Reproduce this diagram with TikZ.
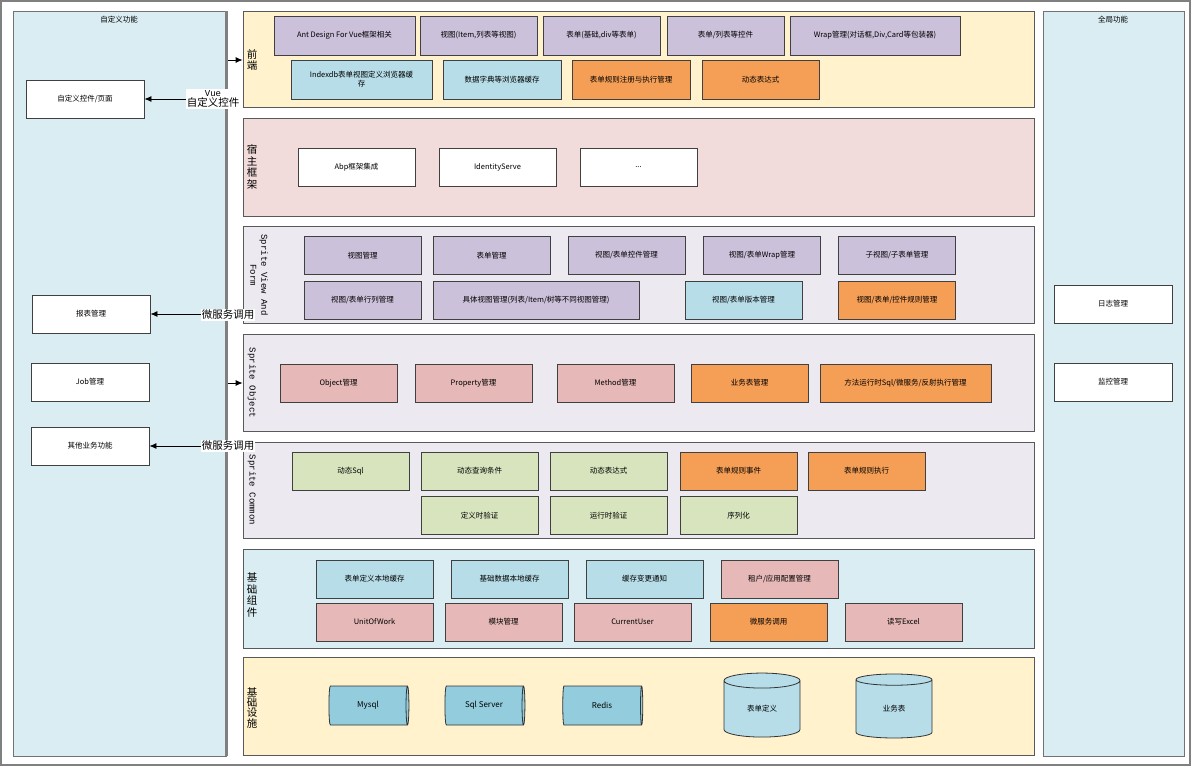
\documentclass[tikz,border=0pt]{standalone}
\usepackage{fontspec}
\setmainfont{Noto Sans CJK SC}
\newfontfamily\monofont{Liberation Mono}
\usetikzlibrary{shapes.geometric,arrows.meta}
\definecolor{panelblue}{HTML}{DAEDF3}
\definecolor{layeryellow}{HTML}{FFF2CC}
\definecolor{layerpink}{HTML}{F2DCDB}
\definecolor{layerlav}{HTML}{EDE9F1}
\definecolor{boxpurple}{HTML}{CCC1DA}
\definecolor{boxblue}{HTML}{B7DDE8}
\definecolor{boxorange}{HTML}{F59E56}
\definecolor{boxpink}{HTML}{E6B9B8}
\definecolor{boxgreen}{HTML}{D7E4BD}
\definecolor{cylblue}{HTML}{93CDDD}
\begin{document}
\begin{tikzpicture}[x=1pt,y=-1pt,
  box/.style={draw=black!75, line width=0.9pt, minimum width=117pt, minimum height=38pt, inner sep=1pt, align=center, font=\fontsize{7.5}{9}\selectfont},
  wbox/.style={box, fill=white},
  pbox/.style={box, fill=boxpurple},
  bbox/.style={box, fill=boxblue},
  obox/.style={box, fill=boxorange},
  rbox/.style={box, fill=boxpink},
  gbox/.style={box, fill=boxgreen},
  layer/.style={draw=black!65, line width=0.8pt, minimum width=791pt, inner sep=0pt},
  panel/.style={draw=black!55, line width=1pt, fill=panelblue, inner sep=0pt},
  lname/.style={align=center, font=\fontsize{10.5}{11.5}\selectfont, inner sep=0pt},
  sname/.style={align=center, rotate=-90, font=\monofont\fontsize{9}{11}\selectfont, inner sep=0pt},
  ptitle/.style={font=\fontsize{7.5}{9}\selectfont},
  hcyl/.style={cylinder, draw=black!80, line width=0.8pt, fill=cylblue, shape aspect=0.35, minimum width=39pt, minimum height=80pt, inner sep=0pt, font=\fontsize{8}{9}\selectfont},
  vcyl/.style={cylinder, shape border rotate=90, draw=black!80, line width=0.8pt, fill=boxblue, shape aspect=0.5, minimum width=76pt, minimum height=64pt, inner sep=0pt, font=\fontsize{7.5}{9}\selectfont},
  arr/.style={-{Latex[length=7pt,width=6pt]}, line width=0.8pt},
  tag/.style={fill=white, inner sep=1pt, align=center, font=\fontsize{10.5}{10.5}\selectfont}]

\useasboundingbox (0,0) rectangle (1191,766);
\draw[draw=black!50, line width=2pt] (1,1) rectangle (1190,765);

% side panels
\node[panel, minimum width=213pt, minimum height=745pt] (left) at (119.5,383.5) {};
\node[panel, minimum width=141pt, minimum height=745pt] (right) at (1113.5,383.5) {};
\node[ptitle] (lt) at (119,20) {自定义功能};
\node[ptitle] (rt) at (1113,20) {全局功能};
\draw[draw=black!50, line width=3pt] (226.5,11) -- (226.5,756);

\node[wbox, minimum width=118pt] (cust) at (85,99) {自定义控件/页面};
\node[wbox, minimum width=118pt] (rpt) at (91,314) {报表管理};
\node[wbox, minimum width=118pt] (job) at (90,382) {Job管理};
\node[wbox, minimum width=118pt] (oth) at (90,446) {其他业务功能};
\node[wbox, minimum width=118pt] (log) at (1113,304) {日志管理};
\node[wbox, minimum width=118pt] (mon) at (1113,382) {监控管理};

% layers
\node[layer, fill=layeryellow, minimum height=96pt] (fe) at (638.5,59) {};
\node[layer, fill=layerpink, minimum height=98pt] (host) at (638.5,167) {};
\node[layer, fill=layerlav, minimum height=97pt] (svf) at (638.5,274.5) {};
\node[layer, fill=layerlav, minimum height=97pt] (so) at (638.5,382.5) {};
\node[layer, fill=layerlav, minimum height=96pt] (sc) at (638.5,490) {};
\node[layer, fill=panelblue, minimum height=99pt] (base) at (638.5,598.5) {};
\node[layer, fill=layeryellow, minimum height=98pt] (infra) at (638.5,706) {};

\node[lname] (fen) at (252,60) {前\\端};
\node[lname] (hostn) at (252,167) {宿\\主\\框\\架};
\node[sname] (svfn) at (259,275) {Sprite View And\\Form};
\node[sname] (son) at (252,383) {Sprite Object};
\node[sname] (scn) at (252,490) {Sprite Common};
\node[lname] (basen) at (252,595) {基\\础\\组\\件};
\node[lname, font=\fontsize{10.5}{9}\selectfont] (infran) at (252,708) {基\\础\\设\\施};

% 前端
\node[pbox, minimum width=141pt, minimum height=39pt] (ant) at (344.5,35.5) {Ant Design For Vue框架相关};
\node[pbox, minimum height=39pt] (fview) at (478.5,35.5) {视图(Item,列表等视图)};
\node[pbox, minimum height=39pt] (fform) at (601.5,35.5) {表单(基础,div等表单)};
\node[pbox, minimum height=39pt] (fctl) at (725.5,35.5) {表单/列表等控件};
\node[pbox, minimum width=170pt, minimum height=39pt] (fwrap) at (875,35.5) {Wrap管理(对话框,Div,Card等包装器)};
\node[bbox, minimum width=141pt, minimum height=39pt] (idx) at (361.5,79.5) {Indexdb表单视图定义浏览器缓\\存};
\node[bbox, minimum width=118pt, minimum height=39pt] (dict) at (502,79.5) {数据字典等浏览器缓存};
\node[obox, minimum width=118pt, minimum height=39pt] (frule) at (631,79.5) {表单规则注册与执行管理};
\node[obox, minimum height=39pt] (fexpr) at (760.5,79.5) {动态表达式};

% 宿主框架
\node[wbox] (abp) at (356.5,167) {Abp框架集成};
\node[wbox] (ids) at (497.5,167) {IdentityServe};
\node[wbox] (etc) at (638.5,167) {...};

% Sprite View And Form
\node[pbox] (vm) at (362.5,255.5) {视图管理};
\node[pbox] (fm) at (491.5,255.5) {表单管理};
\node[pbox] (vcm) at (626.5,255.5) {视图/表单控件管理};
\node[pbox] (vwm) at (762,255.5) {视图/表单Wrap管理};
\node[pbox] (subm) at (897,255.5) {子视图/子表单管理};
\node[pbox] (rcm) at (362.5,300) {视图/表单行列管理};
\node[pbox, minimum width=206pt] (cvm) at (536,300) {具体视图管理(列表/Item/树等不同视图管理)};
\node[bbox] (verm) at (743.5,300) {视图/表单版本管理};
\node[obox] (crm) at (897,300) {视图/表单/控件规则管理};

% Sprite Object
\node[rbox] (objm) at (338.5,383) {Object管理};
\node[rbox] (propm) at (473.5,383) {Property管理};
\node[rbox] (methm) at (615.5,383) {Method管理};
\node[obox] (btm) at (749.5,383) {业务表管理};
\node[obox, minimum width=171pt] (runm) at (905.5,383) {方法运行时Sql/微服务/反射执行管理};

% Sprite Common
\node[gbox] (dsql) at (350.5,471) {动态Sql};
\node[gbox] (dq) at (479.5,471) {动态查询条件};
\node[gbox] (dexpr) at (608.5,471) {动态表达式};
\node[obox] (rev) at (738.5,471) {表单规则事件};
\node[obox] (rex) at (866.5,471) {表单规则执行};
\node[gbox] (dval) at (479.5,515.5) {定义时验证};
\node[gbox] (rval) at (608.5,515.5) {运行时验证};
\node[gbox] (ser) at (738.5,515.5) {序列化};

% 基础组件
\node[bbox] (fdc) at (374.5,579) {表单定义本地缓存};
\node[bbox] (bdc) at (509.5,579) {基础数据本地缓存};
\node[bbox] (cn) at (644.5,579) {缓存变更通知};
\node[rbox] (tcfg) at (779.5,579) {租户/应用配置管理};
\node[rbox] (uow) at (374.5,622) {UnitOfWork};
\node[rbox] (modm) at (503.5,622) {模块管理};
\node[rbox] (cu) at (632.5,622) {CurrentUser};
\node[obox] (msc) at (768.5,622) {微服务调用};
\node[rbox] (xls) at (903.5,622) {读写Excel};

% 基础设施
\node[hcyl] (mysql) at (368,705.5) {Mysql};
\node[hcyl] (sqls) at (484,705.5) {Sql Server};
\node[hcyl] (redis) at (602,705.5) {Redis};
\node[vcyl] (fdef) at (762,709) {表单定义};
\node[vcyl] (btab) at (894,709) {业务表};

% connectors
\coordinate (b1) at (228,60);
\coordinate (b2) at (228,383);
\coordinate (b3) at (225,99);
\coordinate (b4) at (225,314);
\coordinate (b5) at (225,446);
\draw[arr] (b1) -- (fe.west |- b1);
\draw[arr] (b2) -- (so.west |- b2);
\draw[arr] (b3) -- (cust);
\draw[arr] (b4) -- (rpt);
\draw[arr] (b5) -- (oth);
\node[tag] (t1) at (213,99) {{\monofont\fontsize{9}{10}\selectfont Vue}\\自定义控件};
\node[tag] (t2) at (228,315) {微服务调用};
\node[tag] (t3) at (228,446) {微服务调用};
\end{tikzpicture}
\end{document}
